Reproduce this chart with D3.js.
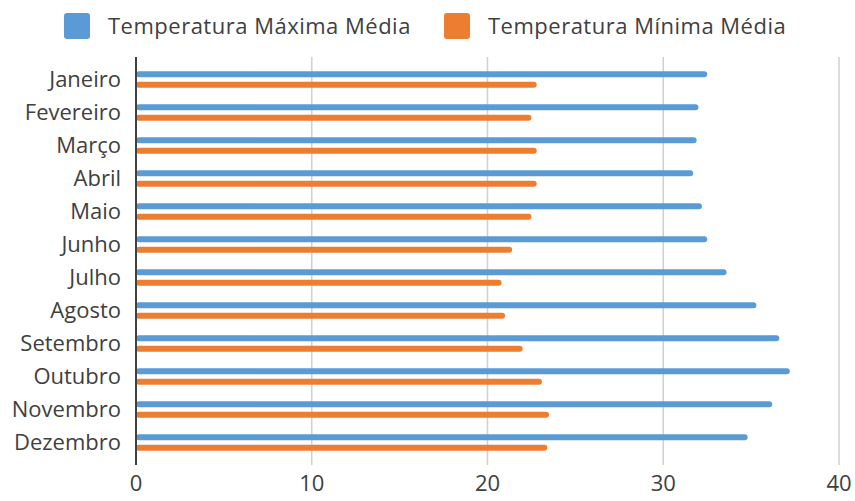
<!DOCTYPE html>
<html>
<head>
<meta charset="utf-8">
<script src="https://cdn.jsdelivr.net/npm/d3@7"></script>
<style>
  body { margin: 0; background: #fff; }
  svg { display: block; font-family: "Open Sans", "Noto Sans", sans-serif; }
</style>
</head>
<body>
<svg id="chart" width="855" height="501"></svg>
<script>
const months = ["Janeiro", "Fevereiro", "Março", "Abril", "Maio", "Junho",
  "Julho", "Agosto", "Setembro", "Outubro", "Novembro", "Dezembro"];
const seriesNames = ["Temperatura Máxima Média", "Temperatura Mínima Média"];
const tempMax = [32.5, 32.0, 31.9, 31.7, 32.2, 32.5, 33.6, 35.3, 36.6, 37.2, 36.2, 34.8];
const tempMin = [22.8, 22.5, 22.8, 22.8, 22.5, 21.4, 20.8, 21.0, 22.0, 23.1, 23.5, 23.4];
const xTicks = [0, 10, 20, 30, 40];

const colors = ["#5b9bd5", "#ed7d31"];
const textColor = "#404040";

const svg = d3.select("#chart");

let x = d3.scaleLinear().domain([0, 40]).range([136, 839]);
let y = d3.scaleBand().domain(months).range([63, 459]);

const plotTop = 57, plotBottom = 465;

// gridlines
svg.append("g")
  .selectAll("line")
  .data(xTicks.slice(1))
  .enter().append("line")
    .attr("x1", d => x(d)).attr("x2", d => x(d))
    .attr("y1", plotTop).attr("y2", plotBottom)
    .attr("stroke", "#d0d0d0")
    .attr("stroke-width", 1.5);

// tick labels
svg.append("g")
  .selectAll("text")
  .data(xTicks)
  .enter().append("text")
    .attr("x", d => x(d))
    .attr("y", 491)
    .attr("text-anchor", "middle")
    .attr("font-size", 22)
    .attr("fill", textColor)
    .text(d => d);

// bars
const series = [tempMax, tempMin];
const offsets = [-5.3, 5.3];
series.forEach((vals, si) => {
  svg.append("g")
    .selectAll("rect")
    .data(vals)
    .enter().append("rect")
      .attr("x", x(0))
      .attr("y", (d, i) => y(months[i]) + y.bandwidth() / 2 + offsets[si] - 3)
      .attr("width", d => x(d) - x(0))
      .attr("height", 6)
      .attr("rx", 3)
      .attr("fill", colors[si]);
});

// category labels
svg.append("g")
  .selectAll("text")
  .data(months)
  .enter().append("text")
    .attr("x", 121)
    .attr("y", d => y(d) + y.bandwidth() / 2)
    .attr("dy", "0.35em")
    .attr("text-anchor", "end")
    .attr("font-size", 22)
    .attr("fill", textColor)
    .text(d => d);

// vertical axis line
svg.append("line")
  .attr("x1", x(0)).attr("x2", x(0))
  .attr("y1", plotTop).attr("y2", plotBottom)
  .attr("stroke", "#404040")
  .attr("stroke-width", 2);

// legend
const legendX = [64, 444];
const legend = svg.append("g")
  .selectAll("g")
  .data(seriesNames)
  .enter().append("g")
    .attr("transform", (d, i) => `translate(${legendX[i]},13)`);
legend.append("rect")
  .attr("width", 26).attr("height", 26)
  .attr("rx", 3)
  .attr("fill", (d, i) => colors[i]);
legend.append("text")
  .attr("x", 44)
  .attr("y", 13)
  .attr("dy", "0.35em")
  .attr("font-size", 22)
  .attr("letter-spacing", 0.5)
  .attr("fill", textColor)
  .text(d => d);
</script>
</body>
</html>
